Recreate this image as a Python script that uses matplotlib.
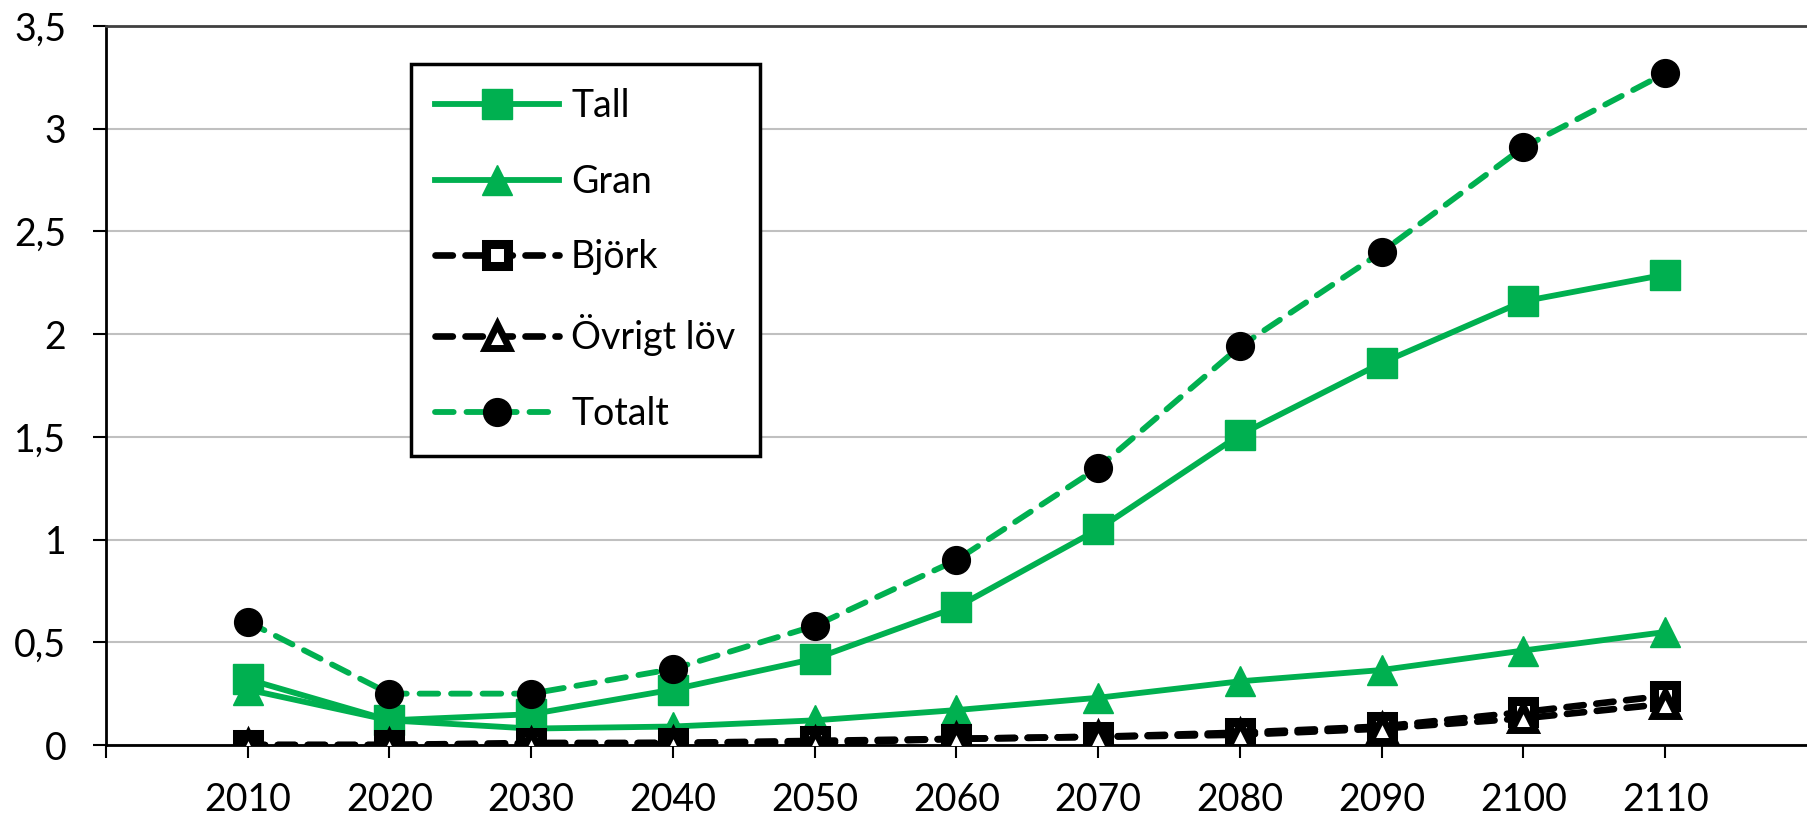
# Avverkning per trädslag, 2010-2110

import matplotlib
matplotlib.use('Agg')
import matplotlib.pyplot as plt

# Data
years = [2010, 2020, 2030, 2040, 2050, 2060, 2070, 2080, 2090, 2100, 2110]
tall = [0.32, 0.12, 0.15, 0.27, 0.42, 0.67, 1.05, 1.51, 1.86, 2.16, 2.29]
gran = [0.27, 0.12, 0.08, 0.09, 0.12, 0.17, 0.23, 0.31, 0.365, 0.46, 0.55]
bjork = [0.0, 0.0, 0.01, 0.01, 0.02, 0.03, 0.04, 0.06, 0.09, 0.16, 0.24]
ovrigt = [0.0, 0.0, 0.005, 0.01, 0.01, 0.03, 0.04, 0.05, 0.08, 0.13, 0.20]
totalt = [0.6, 0.25, 0.25, 0.37, 0.58, 0.9, 1.35, 1.94, 2.4, 2.91, 3.27]
yticks = [0, 0.5, 1, 1.5, 2, 2.5, 3, 3.5]
ytick_labels = ['0', '0,5', '1', '1,5', '2', '2,5', '3', '3,5']

green = '#00b050'
font = 'Lato'
fs = 27

fig = plt.figure(figsize=(18.07, 8.18), dpi=100, facecolor='white')
ax = fig.add_axes([106/1807, 1 - 745/818, 1 - 106/1807, (745 - 26)/818])

lw = 4.2
blw = 4.8
dash = (2.6, 1.9)

ax.plot(years, tall, color=green, lw=lw, marker='s', ms=21,
        mfc=green, mec=green, mew=1, label='Tall', zorder=3)
ax.plot(years, gran, color=green, lw=lw, marker='^', ms=22,
        mfc=green, mec=green, mew=1, label='Gran', zorder=3)
ax.plot(years, bjork, color='black', lw=blw, ls=(0, dash), marker='s', ms=16,
        mfc='white', mec='black', mew=6.5, dash_capstyle='round',
        label='Björk', zorder=4)
ax.plot(years, ovrigt, color='black', lw=blw, ls=(0, dash), marker='^', ms=17,
        mfc='white', mec='black', mew=5, dash_capstyle='round',
        label='Övrigt löv', zorder=4)
ax.plot(years, totalt, color=green, lw=lw, ls=(0, (3.2, 2.2)), marker='o', ms=20,
        mfc='black', mec='black', dash_capstyle='round',
        label='Totalt', zorder=5)

ax.set_xlim(2000, 2120)
ax.set_ylim(0, 3.5)
ax.set_xticks([2000] + years)
ax.set_xticklabels([''] + [str(y) for y in years])
ax.set_yticks(yticks)
ax.set_yticklabels(ytick_labels)

ax.grid(axis='y', color='#c0c0c0', lw=1.5, zorder=0)
ax.set_axisbelow(True)
ax.spines['right'].set_visible(False)
ax.spines['top'].set_color('#404040')
ax.spines['top'].set_linewidth(2)
ax.spines['left'].set_linewidth(2)
ax.spines['bottom'].set_linewidth(2)
ax.tick_params(axis='both', direction='out', length=9.5, width=1.5,
               labelsize=fs, colors='black')
ax.tick_params(axis='y', pad=19)
ax.tick_params(axis='x', pad=17)
for t in ax.get_xticklabels() + ax.get_yticklabels():
    t.set_fontfamily(font)

leg = ax.legend(loc='upper left', bbox_to_anchor=(411/1807, 1 - 64/818),
                bbox_transform=fig.transFigure, frameon=True, fancybox=False,
                prop={'family': font, 'size': fs}, handlelength=3.3,
                handletextpad=0.32, labelspacing=1.05, borderpad=0.65,
                borderaxespad=0)
leg.get_frame().set_edgecolor('black')
leg.get_frame().set_linewidth(2.5)
leg.get_frame().set_alpha(1)

fig.savefig('out.png', dpi=100, facecolor='white')
